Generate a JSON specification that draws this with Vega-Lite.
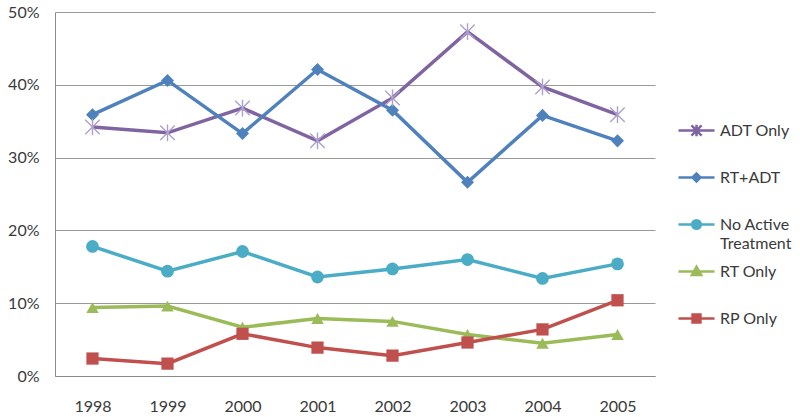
{
  "$schema": "https://vega.github.io/schema/vega-lite/v6.json",
  "width": 600,
  "height": 364,
  "autosize": {"type": "none"},
  "padding": {"left": 55, "top": 12, "right": 145, "bottom": 41},
  "background": "white",
  "config": {
    "view": {"stroke": null},
    "font": "Lato",
    "axis": {"labelFont": "Lato", "labelFontSize": 16, "labelColor": "#3a3a3a", "ticks": false, "title": null},
    "legend": {"labelFont": "Lato", "labelFontSize": 16, "labelColor": "#3a3a3a"}
  },
  "data": {
    "values": [
      {"year": "1998", "series": "ADT Only", "value": 0.342},
      {"year": "1999", "series": "ADT Only", "value": 0.334},
      {"year": "2000", "series": "ADT Only", "value": 0.368},
      {"year": "2001", "series": "ADT Only", "value": 0.323},
      {"year": "2002", "series": "ADT Only", "value": 0.382},
      {"year": "2003", "series": "ADT Only", "value": 0.473},
      {"year": "2004", "series": "ADT Only", "value": 0.397},
      {"year": "2005", "series": "ADT Only", "value": 0.359},
      {"year": "1998", "series": "RT+ADT", "value": 0.359},
      {"year": "1999", "series": "RT+ADT", "value": 0.406},
      {"year": "2000", "series": "RT+ADT", "value": 0.333},
      {"year": "2001", "series": "RT+ADT", "value": 0.421},
      {"year": "2002", "series": "RT+ADT", "value": 0.365},
      {"year": "2003", "series": "RT+ADT", "value": 0.266},
      {"year": "2004", "series": "RT+ADT", "value": 0.358},
      {"year": "2005", "series": "RT+ADT", "value": 0.323},
      {"year": "1998", "series": "No Active Treatment", "value": 0.178},
      {"year": "1999", "series": "No Active Treatment", "value": 0.144},
      {"year": "2000", "series": "No Active Treatment", "value": 0.171},
      {"year": "2001", "series": "No Active Treatment", "value": 0.136},
      {"year": "2002", "series": "No Active Treatment", "value": 0.147},
      {"year": "2003", "series": "No Active Treatment", "value": 0.160},
      {"year": "2004", "series": "No Active Treatment", "value": 0.134},
      {"year": "2005", "series": "No Active Treatment", "value": 0.154},
      {"year": "1998", "series": "RT Only", "value": 0.094},
      {"year": "1999", "series": "RT Only", "value": 0.096},
      {"year": "2000", "series": "RT Only", "value": 0.067},
      {"year": "2001", "series": "RT Only", "value": 0.079},
      {"year": "2002", "series": "RT Only", "value": 0.075},
      {"year": "2003", "series": "RT Only", "value": 0.057},
      {"year": "2004", "series": "RT Only", "value": 0.045},
      {"year": "2005", "series": "RT Only", "value": 0.057},
      {"year": "1998", "series": "RP Only", "value": 0.024},
      {"year": "1999", "series": "RP Only", "value": 0.017},
      {"year": "2000", "series": "RP Only", "value": 0.058},
      {"year": "2001", "series": "RP Only", "value": 0.039},
      {"year": "2002", "series": "RP Only", "value": 0.028},
      {"year": "2003", "series": "RP Only", "value": 0.046},
      {"year": "2004", "series": "RP Only", "value": 0.064},
      {"year": "2005", "series": "RP Only", "value": 0.104}
    ]
  },
  "encoding": {
    "x": {
      "field": "year", "type": "ordinal",
      "scale": {"type": "point", "padding": 0.5},
      "axis": {"labelAngle": 0, "labelPadding": 22, "domainColor": "#8a8a8a", "domainWidth": 1, "grid": false}
    },
    "y": {
      "field": "value", "type": "quantitative",
      "scale": {"domain": [0, 0.5], "nice": false},
      "axis": {"values": [0, 0.1, 0.2, 0.3, 0.4, 0.5], "format": ".0%", "labelPadding": 16, "domainColor": "#8a8a8a", "grid": true, "gridColor": "#9a9a9a", "gridWidth": 1}
    }
  },
  "layer": [
    {
      "mark": {"type": "line", "strokeWidth": 3.5},
      "encoding": {
        "color": {
          "field": "series", "type": "nominal",
          "scale": {
            "domain": ["ADT Only", "RT+ADT", "No Active Treatment", "RT Only", "RP Only"],
            "range": ["#8064A2", "#4F81BD", "#4BACC6", "#9BBB59", "#C0504D"]
          },
          "legend": {
            "orient": "none",
            "legendX": 622,
            "legendY": 99,
            "title": null,
            "padding": 0,
            "symbolSize": 1296,
            "rowPadding": -2.5,
            "gridAlign": "all",
            "labelOffset": 4,
            "labelBaseline": "middle",
            "labelExpr": "datum.label === 'No Active Treatment' ? ['No Active', 'Treatment'] : datum.label",
            "encode": {
              "symbols": {
                "update": {
                  "shape": {"signal": "datum.value === 'ADT Only' ? 'M-1,0H1M-0.28,-0.28L0.28,0.28M-0.28,0.28L0.28,-0.28M0,-0.32V0.32' : datum.value === 'RT+ADT' ? 'M-1,0H1M-0.22,0L0,-0.22L0.22,0L0,0.22Z' : datum.value === 'No Active Treatment' ? 'M-1,0H1M-0.24,0A0.24,0.24 0 1,0 0.24,0A0.24,0.24 0 1,0 -0.24,0Z' : datum.value === 'RT Only' ? 'M-1,0H1M-0.26,0.2L0,-0.26L0.26,0.2Z' : 'M-1,0H1M-0.22,-0.22H0.22V0.22H-0.22Z'"},
                  "fill": {"scale": "color", "field": "value"},
                  "stroke": {"scale": "color", "field": "value"},
                  "strokeWidth": {"value": 2.5},
                  "opacity": {"value": 1},
                  "fillOpacity": {"value": 1}
                }
              },
              "labels": {
                "update": {
                  "lineHeight": {"value": 19.5}
                }
              }
            }
          }
        }
      }
    },
    {
      "transform": [{"filter": "datum.series !== 'ADT Only'"}],
      "mark": {"type": "point", "filled": true, "opacity": 1},
      "encoding": {
        "color": {"field": "series", "type": "nominal"},
        "shape": {
          "field": "series", "type": "nominal",
          "scale": {"domain": ["RT+ADT", "No Active Treatment", "RT Only", "RP Only"], "range": ["diamond", "circle", "triangle-up", "square"]},
          "legend": null
        },
        "size": {
          "field": "series", "type": "nominal",
          "scale": {"domain": ["RT+ADT", "No Active Treatment", "RT Only", "RP Only"], "range": [170, 150, 130, 130]},
          "legend": null
        }
      }
    },
    {
      "transform": [{"filter": "datum.series === 'ADT Only'"}],
      "mark": {"type": "point", "filled": false, "opacity": 1, "shape": "M-1,-1L1,1M-1,1L1,-1M0,-1.15V1.15", "size": 210, "stroke": "#ADA0CC", "strokeWidth": 1.4},
      "encoding": {}
    }
  ]
}
